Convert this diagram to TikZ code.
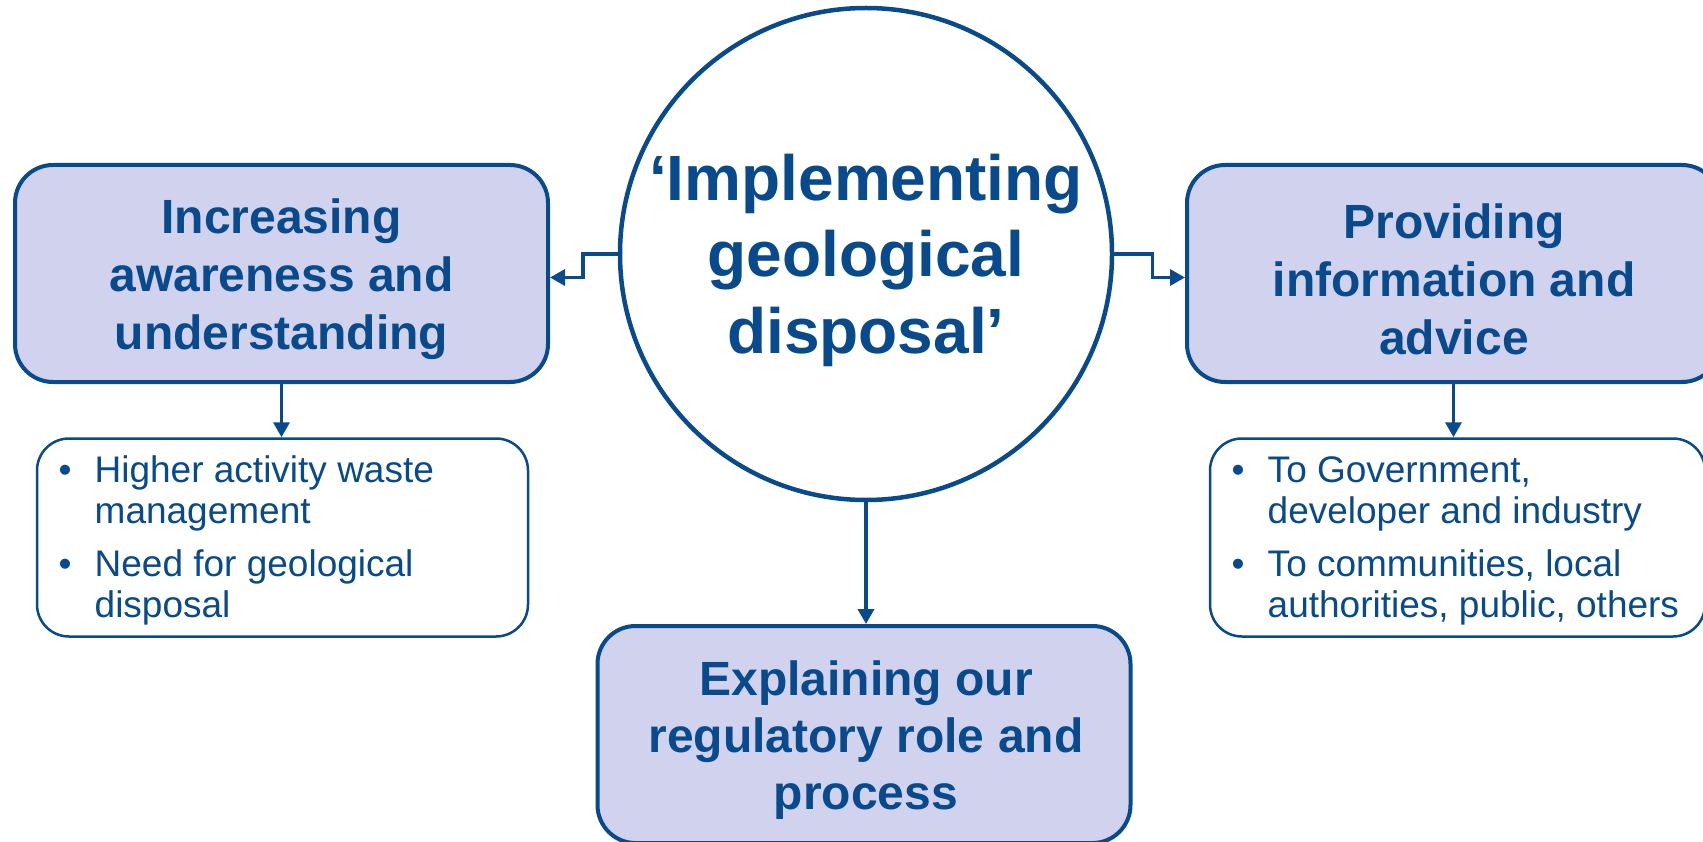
\documentclass[tikz,border=0pt]{standalone}
\usepackage{fontspec}
\setmainfont{Liberation Sans}
\usetikzlibrary{arrows.meta}
\definecolor{navy}{RGB}{8,74,140}
\definecolor{lav}{RGB}{208,210,238}
\begin{document}
\begin{tikzpicture}[x=1pt,y=-1pt,
  bigbox/.style={draw=navy, line width=4pt, fill=lav, rounded corners=38pt,
    minimum width=533pt, minimum height=217pt, inner sep=0pt},
  listbox/.style={draw=navy, line width=2.5pt, fill=white, rounded corners=32pt,
    minimum height=198pt, inner sep=0pt},
  bigtext/.style={text=navy, font=\bfseries\fontsize{48}{58}\selectfont,
    align=center, inner sep=0pt},
  circtextstyle/.style={text=navy, font=\bfseries\fontsize{64}{76.5}\selectfont,
    align=center, inner sep=0pt},
  listtext/.style={text=navy, font=\fontsize{37}{41}\selectfont,
    inner sep=0pt, anchor=base west},
  conn/.style={draw=navy, line width=3.5pt, -{Triangle[length=15pt,width=16pt]}},
]
\useasboundingbox (0,0) rectangle (1703,842);
\fill[white] (0,0) rectangle (1703,842);

% centre circle
\node[draw=navy, line width=4.5pt, fill=white, circle, minimum size=492pt, inner sep=0pt] (circ) at (866,254) {};
\node[circtextstyle] (circtext) at (866,260) {‘Implementing\\geological\\disposal’};

% big boxes
\node[bigbox] (lbox) at (281.5,273.5) {};
\node[bigtext] (ltext) at (281.5,279) {Increasing\\awareness and\\understanding};

\node[bigbox] (rbox) at (1453.5,273.5) {};
\node[bigtext] (rtext) at (1454,279) {Providing\\information and\\advice};

\node[bigbox] (bbox) at (864,734.5) {};
\node[bigtext, font=\bfseries\fontsize{48}{57}\selectfont] (btext) at (866,740) {Explaining our\\regulatory role and\\process};

% bullet boxes
\node[listbox, minimum width=491pt] (llist) at (282.5,537.5) {};
\node[listtext] (ltx) at (58.5,482) {\begin{tabular}[t]{@{}p{36pt}@{}l@{}}•&Higher activity waste\\&management\\[12pt]•&Need for geological\\&disposal\end{tabular}};

\node[listbox, minimum width=495pt] (rlist) at (1457.5,537.5) {};
\node[listtext] (rtx) at (1231.5,482) {\begin{tabular}[t]{@{}p{36pt}@{}l@{}}•&To Government,\\&developer and industry\\[12pt]•&To communities, local\\&authorities, public, others\end{tabular}};

% connectors
\draw[conn] (circ.west) -- ++(-35,0) |- ([yshift=-4pt]lbox.east);
\draw[conn] (circ.east) -- ++(38,0) |- ([yshift=-4pt]rbox.west);
\draw[conn] (circ.south) -- (circ.south |- bbox.north);
\draw[conn] (lbox.south) -- (lbox.south |- llist.north);
\draw[conn] (rbox.south) -- (rbox.south |- rlist.north);
\end{tikzpicture}
\end{document}
